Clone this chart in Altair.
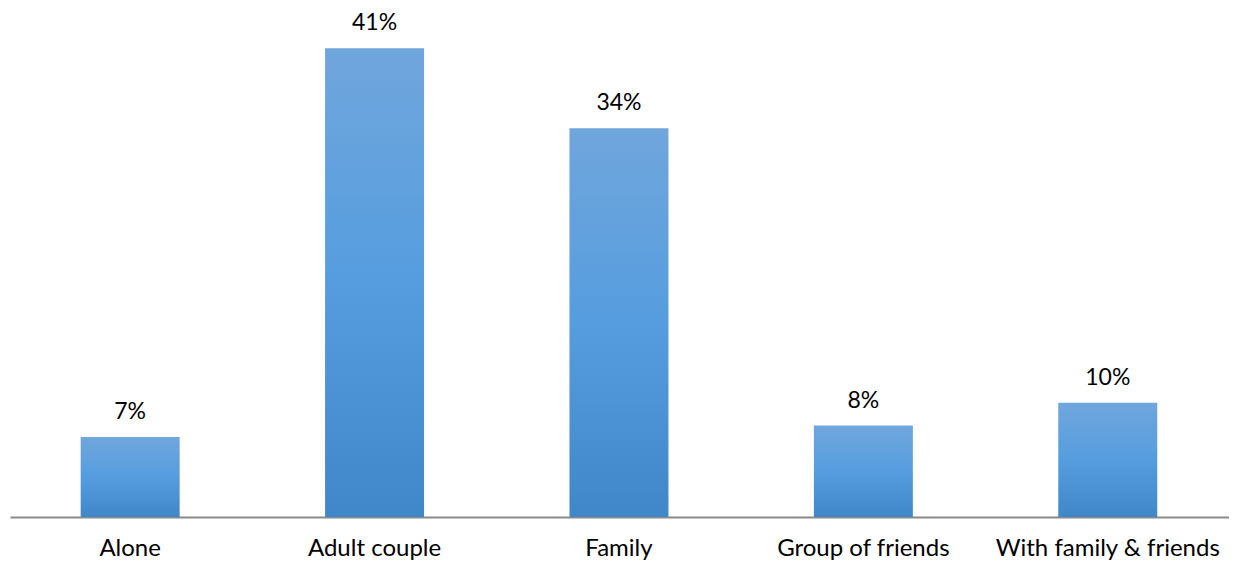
import altair as alt
import pandas as pd

categories = ["Alone", "Adult couple", "Family", "Group of friends", "With family  & friends"]
values = [0.07, 0.41, 0.34, 0.08, 0.10]
labels = ["7%", "41%", "34%", "8%", "10%"]

df = pd.DataFrame({"cat": categories, "val": values, "lab": labels})

FONT = "Lato"

x = alt.X("cat:N", sort=categories, title=None,
          scale=alt.Scale(paddingInner=0.595, paddingOuter=0.2975, align=0.486, range=[0, 1222]),
          axis=alt.Axis(labelAngle=0, ticks=False, domainColor="#8a8a8a", domainWidth=2,
                        labelFont=FONT, labelFontSize=24, labelColor="#000000",
                        labelPadding=19, labelLimit=0, grid=False))
y = alt.Y("val:Q", scale=alt.Scale(domain=[0, 0.44], nice=False), axis=None)

bars = alt.Chart(df).mark_bar(
    color=alt.Gradient(gradient="linear", x1=0, x2=0, y1=0, y2=1,
                       stops=[alt.GradientStop(offset=0, color="#70a6dc"),
                              alt.GradientStop(offset=0.5, color="#559ddf"),
                              alt.GradientStop(offset=1, color="#3f87c9")])
).encode(x=x, y=y)

text = alt.Chart(df).mark_text(baseline="alphabetic", dy=-18, font=FONT, fontSize=23, color="#000000").encode(
    x=alt.X("cat:N", sort=categories), y="val:Q", text="lab:N")

chart = (bars + text).properties(
    width=1214, height=503,
    background="white",
    autosize=alt.AutoSizeParams(type="none"),
    padding={"left": 2, "top": 6, "right": 5, "bottom": 46},
).configure_view(stroke=None, strokeWidth=0)

chart.save("out.html", embed_options={"renderer": "svg", "actions": False})
